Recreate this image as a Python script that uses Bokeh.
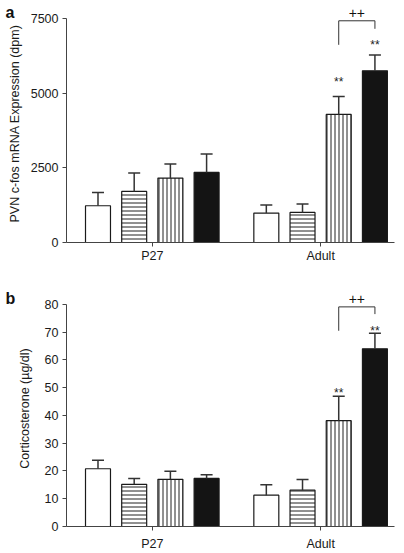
from bokeh.plotting import figure
from bokeh.models import Range1d, FixedTicker, Label, Whisker, ColumnDataSource, TeeHead
from bokeh.layouts import column
from bokeh.embed import file_html
from bokeh.resources import INLINE

# ---------------- data ----------------
groups = ["P27", "Adult"]
cfos_mean = [1230, 1710, 2155, 2345, 985, 1005, 4285, 5745]
cfos_sem = [445, 612, 468, 613, 266, 280, 601, 526]
cort_mean = [20.8, 15.2, 17.0, 17.3, 11.3, 13.1, 38.1, 64.0]
cort_sem = [3.1, 2.1, 2.9, 1.3, 3.7, 3.8, 8.8, 5.6]
yticks_a = [0, 2500, 5000, 7500]
yticks_b = [0, 10, 20, 30, 40, 50, 60, 70, 80]
star_bars = [6, 7]            # bars marked "**"
star_a = [5445, 6684]         # heights of the "**" marks
star_b = [49.1, 71.3]
bracket_bars = [6, 7]         # bars joined by the "++" bracket
bracket_a = [6616, 7420, 7152]   # left foot, top, right foot
plus_a = 7688
bracket_b = [70.5, 79.1, 76.5]
plus_b = 81.9

FONT = "Liberation Sans"
GAP = 4.65
BW = 0.69
PX = 36.2                      # pixels per bar slot
X0 = -0.87
FRAME_W = 404 - 66 - 10
fills = ["white", "white", "white", "#141414"]
hatches = [" ", "-", "|", " "]
xs = [g * GAP + i for g in range(2) for i in range(4)]
group_centers = [g * GAP + 1.5 for g in range(2)]


def make_panel(mean, sem, yticks, y_end, height, top, bottom, ylabel, tag,
               stars, bracket, plus, label_standoff, tag_y, xlab_standoff, star_dy):
    p = figure(width=404, height=height, output_backend="svg", toolbar_location=None,
               x_range=Range1d(X0, X0 + FRAME_W / PX), y_range=Range1d(0, y_end),
               min_border_left=66, min_border_right=4, min_border_top=top,
               min_border_bottom=bottom)
    p.outline_line_color = None
    p.grid.visible = False
    p.background_fill_color = "white"
    p.border_fill_color = "white"

    for i in range(4):
        idx = [g * 4 + i for g in range(2)]
        src = ColumnDataSource(dict(x=[xs[k] for k in idx], top=[mean[k] for k in idx]))
        p.vbar(x="x", top="top", bottom=0, width=BW, source=src,
               fill_color=fills[i], line_color="#1a1a1a", line_width=1.2,
               hatch_pattern=hatches[i], hatch_color="#222222", hatch_scale=4,
               hatch_weight=1)

    wsrc = ColumnDataSource(dict(x=xs, lower=mean, upper=[m + s for m, s in zip(mean, sem)]))
    w = Whisker(base="x", lower="lower", upper="upper", source=wsrc,
                line_color="#333333", line_width=1.5,
                upper_head=TeeHead(size=12, line_color="#333333", line_width=1.5),
                lower_head=None, level="glyph")
    p.add_layout(w)

    for k, sy in zip(star_bars, stars):
        p.add_layout(Label(x=xs[k], y=sy - star_dy, text="**", text_align="center",
                           text_baseline="middle", text_font=FONT,
                           text_font_size="12px", text_color="#222222"))

    x0, x1 = xs[bracket_bars[0]], xs[bracket_bars[1]]
    p.line([x0, x0, x1, x1], [bracket[0], bracket[1], bracket[1], bracket[2]],
           line_color="#333333", line_width=1)
    p.add_layout(Label(x=(x0 + x1) / 2, y=plus, text="++", text_align="center",
                       text_baseline="middle", text_font=FONT, text_font_size="14px",
                       text_color="#111111"))

    p.add_layout(Label(x=X0 - 61 / PX, y=tag_y, x_units="data", y_units="screen", text=tag,
                       text_font=FONT, text_font_size="16px", text_font_style="bold",
                       text_baseline="middle", text_color="#111111"), "right")

    ya = p.yaxis[0]
    ya.ticker = FixedTicker(ticks=yticks)
    ya.bounds = (yticks[0], yticks[-1])
    ya.minor_tick_line_color = None
    ya.major_tick_in = 0
    ya.major_tick_out = 4
    ya.axis_line_color = "#444444"
    ya.major_tick_line_color = "#444444"
    ya.major_label_text_font = FONT
    ya.major_label_text_font_size = "12.5px"
    ya.major_label_text_color = "#1a1a1a"
    ya.major_label_standoff = 4
    ya.axis_label = ylabel
    ya.axis_label_text_font = FONT
    ya.axis_label_text_font_size = "12.5px"
    ya.axis_label_text_font_style = "normal"
    ya.axis_label_text_color = "#1a1a1a"
    ya.axis_label_standoff = label_standoff

    xa = p.xaxis[0]
    xa.ticker = FixedTicker(ticks=group_centers)
    xa.major_label_overrides = {group_centers[g]: groups[g] for g in range(2)}
    xa.minor_tick_line_color = None
    xa.major_tick_in = 0
    xa.major_tick_out = 4
    xa.axis_line_color = "#444444"
    xa.major_tick_line_color = "#444444"
    xa.major_label_text_font = FONT
    xa.major_label_text_font_size = "12.5px"
    xa.major_label_text_color = "#1a1a1a"
    xa.major_label_standoff = xlab_standoff
    return p


pa = make_panel(cfos_mean, cfos_sem, yticks_a, 238 / 74.7 * 2500, 280, 4, 38,
                "PVN c-fos mRNA Expression (dpm)", "a", star_a, bracket_a, plus_a,
                6, 230, 2, 90)
pb = make_panel(cort_mean, cort_sem, yticks_b, 238 / 2.8, 273, 10, 25,
                "Corticosterone (\u00b5g/dl)", "b", star_b, bracket_b, plus_b,
                10, 228, 6, 1.0)

layout = column(pa, pb, spacing=0)
open("out.html", "w").write(file_html(layout, INLINE))
